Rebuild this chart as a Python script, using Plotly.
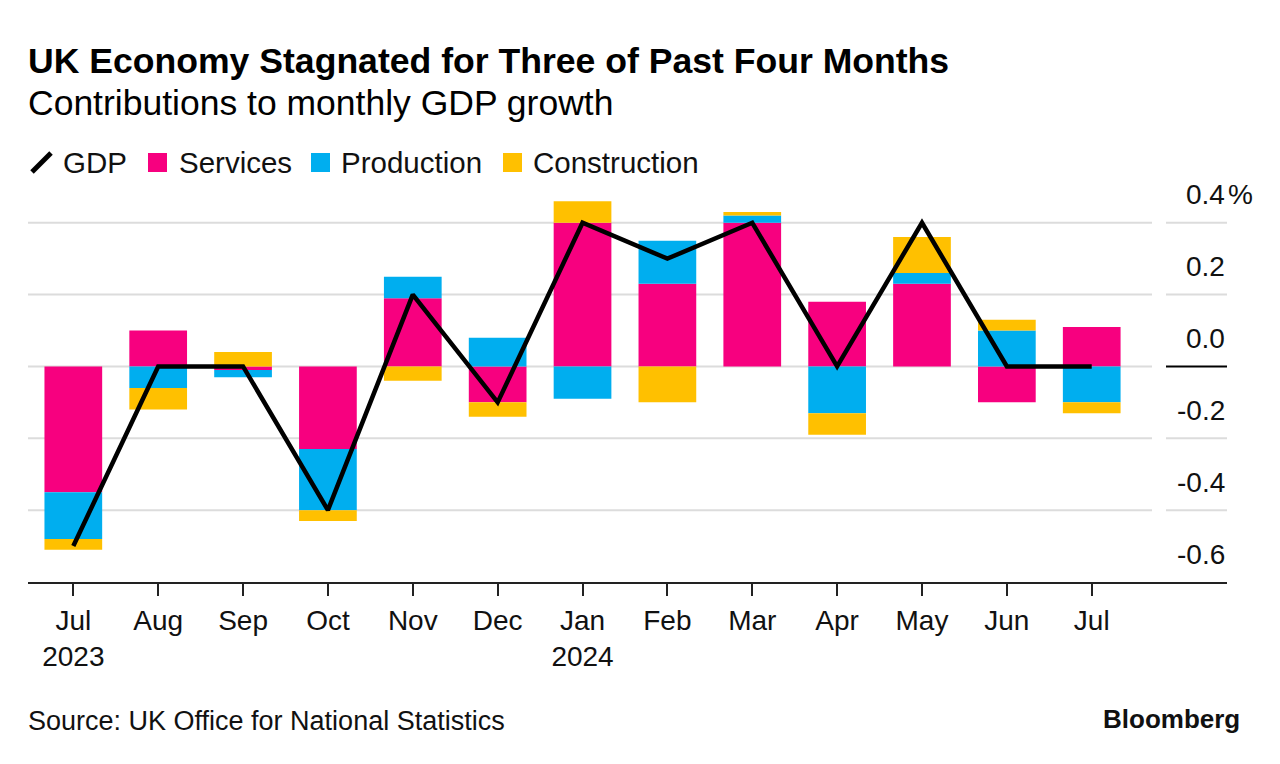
import plotly.graph_objects as go

# ---------------- data ----------------
months = ["Jul", "Aug", "Sep", "Oct", "Nov", "Dec", "Jan", "Feb", "Mar", "Apr", "May", "Jun", "Jul"]
years = ["2023", "", "", "", "", "", "2024", "", "", "", "", "", ""]
services = [-0.35, 0.10, -0.01, -0.23, 0.19, -0.10, 0.40, 0.23, 0.40, 0.18, 0.23, -0.10, 0.11]
production = [-0.13, -0.06, -0.02, -0.17, 0.06, 0.08, -0.09, 0.12, 0.02, -0.13, 0.03, 0.10, -0.10]
construction = [-0.03, -0.06, 0.04, -0.03, -0.04, -0.04, 0.06, -0.10, 0.01, -0.06, 0.10, 0.03, -0.03]
gdp = [-0.5, 0.0, 0.0, -0.4, 0.2, -0.1, 0.4, 0.3, 0.4, 0.0, 0.4, 0.0, 0.0]
y_ticks = [0.4, 0.2, 0.0, -0.2, -0.4, -0.6]
y_labels = ["0.4", "0.2", "0.0", "-0.2", "-0.4", "-0.6"]

# ---------------- style ----------------
OFF = 8                      # page body margin
W, H = 1280 - OFF, 764 - OFF
ML, MR, MT, MB = 20, 53, 186, 182
PINK, CYAN, GOLD = "#F7007F", "#00AEEF", "#FFC000"
FONT = "Liberation Sans"
TXT = "#111111"

def px_x(px):
    return (px - OFF - ML) / (W - ML - MR)

def px_y(py):
    return (H - MB - (py - OFF)) / (H - MT - MB)

x = list(range(len(months)))
ticktext = [m + ("<br>" + y if y else "") for m, y in zip(months, years)]

fig = go.Figure()
bw = 0.68
fig.add_trace(go.Bar(x=x, y=services, name="Services", marker=dict(color=PINK, line=dict(width=0)), width=bw))
fig.add_trace(go.Bar(x=x, y=production, name="Production", marker=dict(color=CYAN, line=dict(width=0)), width=bw))
fig.add_trace(go.Bar(x=x, y=construction, name="Construction", marker=dict(color=GOLD, line=dict(width=0)), width=bw))
fig.add_trace(go.Scatter(x=x, y=gdp, name="GDP", mode="lines", line=dict(color="black", width=4.5)))

shapes = []
annotations = []
# gridlines (two segments: plot area and label area)
for v in y_ticks[:-1]:
    shapes.append(dict(type="line", xref="paper", yref="y", x0=0, x1=px_x(1152), y0=v, y1=v,
                       line=dict(color="#DCDCDC", width=2), layer="below"))
    shapes.append(dict(type="line", xref="paper", yref="y", x0=px_x(1166), x1=1, y0=v, y1=v,
                       line=dict(color="black" if v == 0 else "#DCDCDC", width=2), layer="below"))
# y tick labels
for v, t in zip(y_ticks, y_labels):
    annotations.append(dict(xref="paper", yref="y", x=1, y=v, text=t, showarrow=False,
                            xanchor="right", yanchor="middle", yshift=28,
                            font=dict(family=FONT, size=28, color=TXT)))
annotations.append(dict(xref="paper", yref="y", x=1, y=y_ticks[0], text="%", showarrow=False,
                        xanchor="left", yanchor="middle", yshift=28, xshift=-1,
                        font=dict(family=FONT, size=28, color=TXT)))

# title / subtitle
annotations.append(dict(xref="paper", yref="paper", x=px_x(26), y=px_y(61), text="<b>UK Economy Stagnated for Three of Past Four Months</b>",
                        showarrow=False, xanchor="left", yanchor="middle", font=dict(family=FONT, size=35.6, color="black")))
annotations.append(dict(xref="paper", yref="paper", x=px_x(26), y=px_y(103), text="Contributions to monthly GDP growth",
                        showarrow=False, xanchor="left", yanchor="middle", font=dict(family=FONT, size=35.5, color="black")))

# legend
shapes.append(dict(type="line", xref="paper", yref="paper", x0=px_x(32), x1=px_x(51), y0=px_y(172), y1=px_y(153),
                   line=dict(color="black", width=5)))
leg = [(None, "GDP", 61), (PINK, "Services", 177), (CYAN, "Production", 339), (GOLD, "Construction", 531)]
sq = {PINK: 148, CYAN: 311, GOLD: 503}
for col, name, tx in leg:
    if col:
        s = sq[col]
        shapes.append(dict(type="rect", xref="paper", yref="paper", x0=px_x(s), x1=px_x(s + 19),
                           y0=px_y(172), y1=px_y(153), fillcolor=col, line=dict(width=0)))
    annotations.append(dict(xref="paper", yref="paper", x=px_x(tx), y=px_y(162), text=name, showarrow=False,
                            xanchor="left", yanchor="middle", font=dict(family=FONT, size=29.5, color=TXT)))

# footer
annotations.append(dict(xref="paper", yref="paper", x=px_x(26), y=px_y(721), text="Source: UK Office for National Statistics",
                        showarrow=False, xanchor="left", yanchor="middle", font=dict(family=FONT, size=27, color=TXT)))
annotations.append(dict(xref="paper", yref="paper", x=px_x(1242), y=px_y(719), text="<b>Bloomberg</b>",
                        showarrow=False, xanchor="right", yanchor="middle", font=dict(family=FONT, size=26, color=TXT)))

fig.update_layout(
    width=W, height=H,
    margin=dict(l=ML, r=MR, t=MT, b=MB),
    paper_bgcolor="white", plot_bgcolor="white",
    barmode="relative", bargap=0.32,
    showlegend=False,
    shapes=shapes, annotations=annotations,
    xaxis=dict(range=[-0.534, 13.594], tickmode="array", tickvals=x, ticktext=ticktext,
               showgrid=False, zeroline=False, showline=True, linecolor="#222222", linewidth=2,
               ticks="outside", ticklen=12, tickwidth=2, tickcolor="#222222",
               tickfont=dict(family=FONT, size=28, color=TXT), fixedrange=True),
    yaxis=dict(range=[-0.6, 0.48], visible=False, fixedrange=True),
)

fig.write_html("out.html")
